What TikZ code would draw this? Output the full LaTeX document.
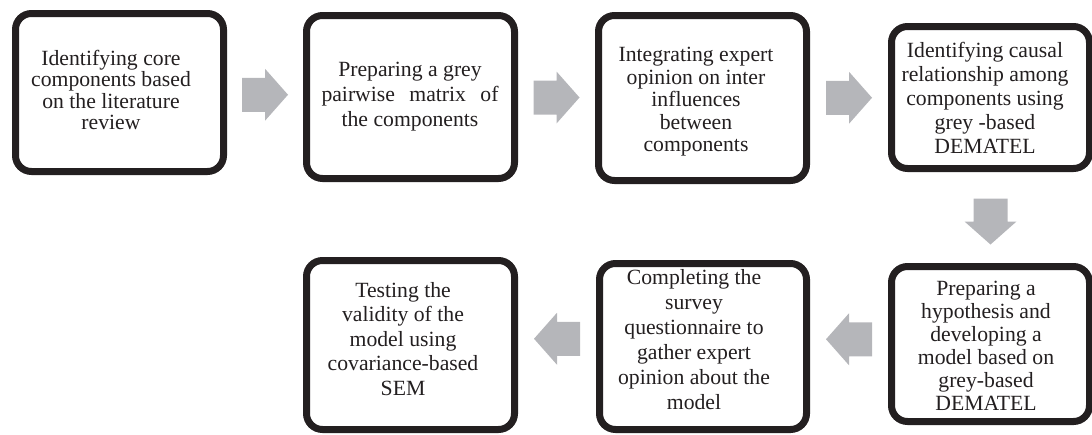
\documentclass[tikz,border=0pt]{standalone}
\usepackage{fontspec}
\setmainfont{Liberation Serif}
\usetikzlibrary{calc}
\definecolor{boxline}{RGB}{35,31,32}
\definecolor{arrowgrey}{RGB}{181,182,186}
\tikzset{
  stepbox/.style={draw=boxline, line width=7pt, rounded corners=16pt, fill=white, inner sep=0pt},
  steptext/.style={align=center, inner sep=0pt, text=boxline, font=\fontsize{21.7}{#1}\selectfont},
  flowarrow/.pic={\fill[arrowgrey] (-23,-17) -- (0,-17) -- (0,-26) -- (23,0) -- (0,26) -- (0,17) -- (-23,17) -- cycle;}
}
\begin{document}
\begin{tikzpicture}[x=1pt, y=-1pt]
\useasboundingbox (0,0) rectangle (1092,434);
\begin{scope}
\clip (0,0) rectangle (1092,434);
% process boxes
\node[stepbox, minimum width=208pt, minimum height=158pt] (b1) at (119.5,92.5) {};
\node[stepbox, minimum width=208pt, minimum height=163pt] (b2) at (410.5,97) {};
\node[stepbox, minimum width=208pt, minimum height=165pt] (b3) at (702.5,98) {};
\node[stepbox, minimum width=198pt, minimum height=142pt] (b4) at (990.5,97.5) {};
\node[stepbox, minimum width=198pt, minimum height=155pt] (b5) at (990.5,344) {};
\node[stepbox, minimum width=207pt, minimum height=166pt] (b6) at (703,346.5) {};
\node[stepbox, minimum width=208pt, minimum height=169pt] (b7) at (410.5,345) {};
\end{scope}

% box texts
\node[steptext=21.5pt] (t1) at (111,90) {Identifying core\\components based\\on the literature\\review};
\node[steptext=25pt] (t2) at (410,97) {Preparing a grey\\\makebox[177pt][s]{pairwise matrix of}\\the components};
\node[steptext=22.5pt] (t3) at (696,102) {Integrating expert\\opinion on inter\\influences\\between\\components};
\node[steptext=24pt] (t4) at (985,98) {Identifying causal\\relationship among\\components using\\grey -based\\DEMATEL};
\node[steptext=23pt] (t5) at (986,346) {Preparing a\\hypothesis and\\developing a\\model based on\\grey-based\\DEMATEL};
\node[steptext=25pt] (t6) at (694,340) {Completing the\\survey\\questionnaire to\\gather expert\\opinion about the\\model};
\node[steptext=24.5pt] (t7) at (403,339) {Testing the\\validity of the\\model using\\covariance-based\\SEM};

% block arrows between steps
\pic at ($(b1.east)!0.5!(b2.west)$) {flowarrow};
\pic at ($(b2.east)!0.5!(b3.west)$) {flowarrow};
\pic at ($(b3.east)!0.5!(b4.west)$) {flowarrow};
\pic[rotate=-90, xshift=4pt] at ($(b4.south)!0.5!(b5.north)$) {flowarrow};
\pic[rotate=180] at ($(b5.west)!0.5!(b6.east)+(0,-6)$) {flowarrow};
\pic[rotate=180] at ($(b6.west)!0.5!(b7.east)+(0,-7)$) {flowarrow};
\end{tikzpicture}
\end{document}
